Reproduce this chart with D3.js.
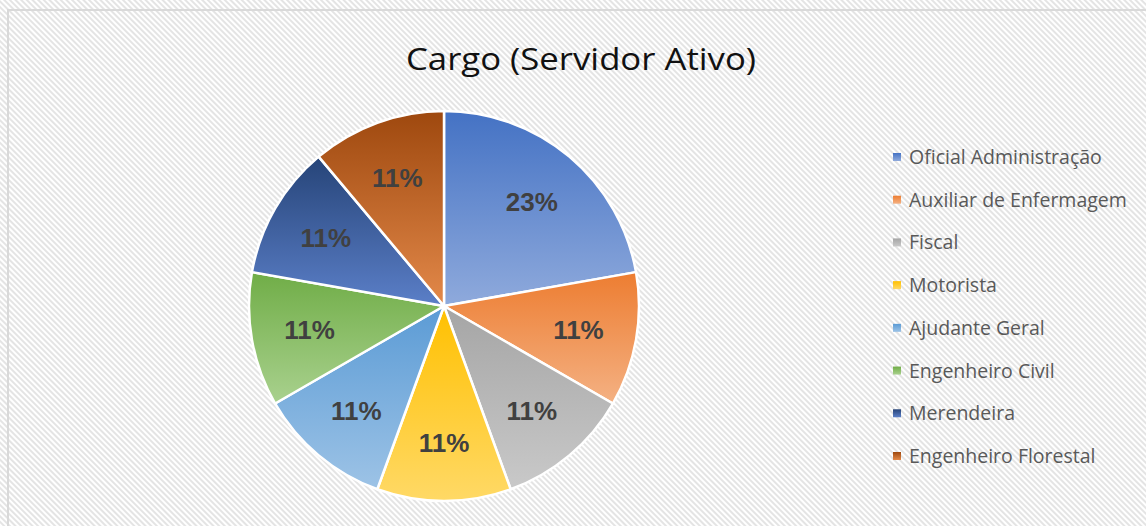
<!DOCTYPE html>
<html lang="pt">
<head>
<meta charset="UTF-8">
<script src="https://d3js.org/d3.v7.min.js"></script>
<title>Cargo (Servidor Ativo)</title>
<style>
  body { margin: 0; background: #fff; }
</style>
</head>
<body>
<svg id="chart" width="1146" height="526"></svg>
<script>
  // data
  const cargos = ["Oficial Administração", "Auxiliar de Enfermagem", "Fiscal", "Motorista",
                  "Ajudante Geral", "Engenheiro Civil", "Merendeira", "Engenheiro Florestal"];
  const servidores = [2, 1, 1, 1, 1, 1, 1, 1];
  const rotulos = ["23%", "11%", "11%", "11%", "11%", "11%", "11%", "11%"];

  // gradient colours per slice: [top, bottom]
  const topColors = ["#4472C4", "#ED7D31", "#A5A5A5", "#FFC000", "#5B9BD5", "#70AD47", "#264478", "#9E480E"];
  const bottomColors = ["#8FAADC", "#F4B183", "#C9C9C9", "#FFD966", "#9DC3E6", "#A9D18E", "#5B7FC8", "#E3894A"];

  const svg = d3.select("#chart");
  const defs = svg.append("defs");

  // diagonal hatch background
  const pat = defs.append("pattern")
      .attr("id", "hatch")
      .attr("width", 4).attr("height", 4)
      .attr("patternUnits", "userSpaceOnUse")
      .attr("patternTransform", "rotate(45)");
  pat.append("rect").attr("width", 4).attr("height", 4).attr("fill", "#fff");
  pat.append("rect").attr("width", 4).attr("height", 2).attr("fill", "#e4e4e4");

  svg.append("rect").attr("width", 1146).attr("height", 526).attr("fill", "url(#hatch)");

  // chart frame (only top/left edges are visible in the crop)
  svg.append("path")
      .attr("d", "M8,526 L8,10 L1146,10")
      .attr("fill", "none")
      .attr("stroke", "#d9d9d9")
      .attr("stroke-width", 2);

  cargos.forEach((c, i) => {
    const g = defs.append("linearGradient")
        .attr("id", "grad" + i)
        .attr("x1", 0).attr("y1", 0).attr("x2", 0).attr("y2", 1);
    g.append("stop").attr("offset", "0%").attr("stop-color", topColors[i]);
    g.append("stop").attr("offset", "100%").attr("stop-color", bottomColors[i]);
  });

  // title
  svg.append("text")
      .attr("x", 581).attr("y", 70)
      .attr("text-anchor", "middle")
      .attr("font-family", "'Open Sans', sans-serif")
      .attr("font-size", 31)
      .attr("fill", "#111")
      .attr("textLength", 350)
      .attr("lengthAdjust", "spacingAndGlyphs")
      .text("Cargo (Servidor Ativo)");

  // pie
  const cx = 444, cy = 306, r = 195;
  const pie = d3.pie().sort(null).value(d => d)(servidores);
  const arc = d3.arc().innerRadius(0).outerRadius(r);
  const labelArc = d3.arc().innerRadius(r * 0.7).outerRadius(r * 0.7);

  const pieLayer = svg.append("g").attr("transform", `translate(${cx},${cy})`);

  pieLayer.selectAll("path.slice").data(pie)
      .join("path")
      .attr("class", "slice")
      .attr("d", arc)
      .attr("fill", (d, i) => `url(#grad${i})`)
      .attr("stroke", "#fff")
      .attr("stroke-width", 2.5)
      .attr("stroke-linejoin", "round");

  pieLayer.selectAll("text.lbl").data(pie)
      .join("text")
      .attr("class", "lbl")
      .attr("transform", d => `translate(${labelArc.centroid(d)})`)
      .attr("text-anchor", "middle")
      .attr("dy", "0.36em")
      .attr("font-family", "'Liberation Sans', Arial, sans-serif")
      .attr("font-weight", "bold")
      .attr("font-size", 26)
      .attr("fill", "#404040")
      .text((d, i) => rotulos[i]);

  // legend
  const legendY = d3.scalePoint().domain(cargos).range([157, 456]);
  const legend = svg.append("g");
  const items = legend.selectAll("g.item").data(cargos)
      .join("g")
      .attr("class", "item")
      .attr("transform", d => `translate(893,${legendY(d)})`);
  items.append("rect")
      .attr("x", 0).attr("y", -4)
      .attr("width", 8).attr("height", 8)
      .attr("fill", (d, i) => `url(#grad${i})`);
  items.append("text")
      .attr("x", 16).attr("dy", "0.36em")
      .attr("font-family", "'Open Sans', sans-serif")
      .attr("font-size", 19.5)
      .attr("fill", "#595959")
      .text(d => d);
</script>
</body>
</html>
